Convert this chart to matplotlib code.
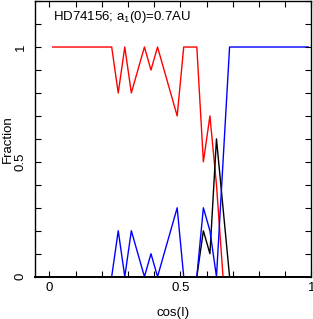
import numpy as np
import matplotlib
matplotlib.use("Agg")
import matplotlib.pyplot as plt
from matplotlib.ticker import MultipleLocator

plt.rcParams['font.family'] = ['Liberation Sans', 'DejaVu Sans']
plt.rcParams['mathtext.fontset'] = 'custom'
plt.rcParams['mathtext.rm'] = 'Liberation Sans'

cos_i = [0.0125 + 0.025 * k for k in range(40)]

red = [1, 1, 1, 1, 1, 1, 1, 1, 1, 1,
       0.8, 1, 0.8, 0.9, 1, 0.9, 1, 0.9, 0.8, 0.7,
       1, 1, 1, 0.5, 0.7, 0.4, 0, 0, 0, 0,
       0, 0, 0, 0, 0, 0, 0, 0, 0, 0]
black = [0, 0, 0, 0, 0, 0, 0, 0, 0, 0,
         0, 0, 0, 0, 0, 0, 0, 0, 0, 0,
         0, 0, 0, 0.2, 0.1, 0.6, 0.3, 0, 0, 0,
         0, 0, 0, 0, 0, 0, 0, 0, 0, 0]
blue = [0, 0, 0, 0, 0, 0, 0, 0, 0, 0,
        0.2, 0, 0.2, 0.1, 0, 0.1, 0, 0.1, 0.2, 0.3,
        0, 0, 0, 0.3, 0.2, 0, 0.5, 1, 1, 1,
        1, 1, 1, 1, 1, 1, 1, 1, 1, 1]

title_text = "HD74156; a$_\\mathrm{1}$(0)=0.7AU"
xlabel = "cos(I)"
ylabel = "Fraction"

fig = plt.figure(figsize=(3.13, 3.19), dpi=100)
ax = fig.add_axes([0.112, 0.1326, 0.883, 0.864])

ax.plot(cos_i, red, color='#ff0000', lw=1.0, zorder=1)
ax.plot(cos_i, black, color='black', lw=1.0, zorder=1)
ax.plot(cos_i, blue, color='#0000ff', lw=1.0, zorder=1)

ax.set_xlim(-0.055, 1.0)
ax.set_ylim(0, 1.2)
ax.xaxis.set_minor_locator(MultipleLocator(0.1))
ax.yaxis.set_minor_locator(MultipleLocator(0.1))
ax.set_xticks([0, 0.5, 1])
ax.set_xticklabels(['0', '0.5', '1'])
ax.set_yticks([0, 0.5, 1])
ax.set_yticklabels(['0', '0.5', '1'], rotation=90, va='center')
ax.tick_params(which='both', direction='in', top=True, right=True,
               length=4, width=0.8, labelsize=9.5)
ax.tick_params(axis='x', pad=4)
ax.tick_params(axis='y', pad=6)
for s in ax.spines.values():
    s.set_linewidth(1.0)
    s.set_zorder(3)
ax.spines['bottom'].set_linewidth(1.4)

ax.set_xlabel(xlabel, fontsize=9.5, labelpad=9)
ax.set_ylabel(ylabel, fontsize=9.5)
ax.yaxis.set_label_coords(-0.076, 0.5)
ax.text(0.015, 1.13, title_text, fontsize=9.5, va='center', ha='left')

fig.savefig('out.png', dpi=100)
